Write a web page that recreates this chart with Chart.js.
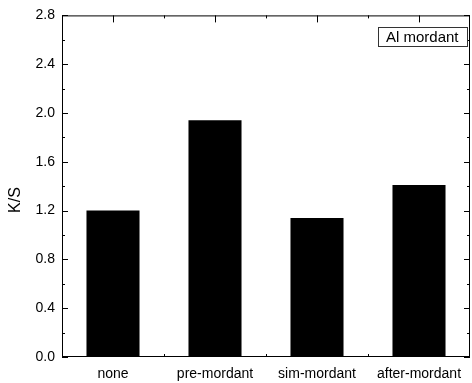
<!DOCTYPE html>
<html><head><meta charset="utf-8">
<script src="https://cdn.jsdelivr.net/npm/chart.js@4/dist/chart.umd.min.js"></script>
<style>html,body{margin:0;padding:0;background:#fff}#c{display:block}</style>
</head><body>
<canvas id="c" width="472" height="383"></canvas>
<script>
const categories = ["none", "pre-mordant", "sim-mordant", "after-mordant"];
const ksValues = [1.20, 1.94, 1.14, 1.41];
const yTickLabels = ["0.0","0.4","0.8","1.2","1.6","2.0","2.4","2.8"];
const legendText = "Al mordant";
const yTitle = "K/S";

const FONT = "'Liberation Sans', Arial, sans-serif";

const frame = {
  id: 'frame',
  afterDraw(chart) {
    const {ctx, chartArea: a, scales: {x, y}} = chart;
    ctx.save();
    ctx.strokeStyle = '#000';
    ctx.lineWidth = 1;
    ctx.strokeRect(a.left + 0.5, a.top + 0.5, a.right - a.left - 1, a.bottom - a.top - 1);
    // y ticks, inward, both sides
    for (let v = 0; v <= 2.8001; v += 0.2) {
      const py = Math.round(y.getPixelForValue(v)) + 0.5;
      const major = Math.round(v * 10) % 4 === 0;
      const len = major ? 6 : 3;
      ctx.beginPath();
      ctx.moveTo(a.left, py); ctx.lineTo(a.left + len, py);
      ctx.moveTo(a.right, py); ctx.lineTo(a.right - len, py);
      ctx.stroke();
    }
    // x ticks: major at centers, minor at boundaries
    const n = categories.length;
    for (let i = 0; i < n; i++) {
      const px = Math.round(x.getPixelForValue(i)) + 0.5;
      ctx.beginPath();
      ctx.moveTo(px, a.bottom); ctx.lineTo(px, a.bottom - 6);
      ctx.moveTo(px, a.top); ctx.lineTo(px, a.top + 7);
      ctx.stroke();
      if (i < n - 1) {
        const bx = Math.round((x.getPixelForValue(i) + x.getPixelForValue(i + 1)) / 2) + 0.5;
        ctx.beginPath();
        ctx.moveTo(bx, a.bottom); ctx.lineTo(bx, a.bottom - 3);
        ctx.moveTo(bx, a.top); ctx.lineTo(bx, a.top + 3);
        ctx.stroke();
      }
    }
    // y title
    ctx.save();
    ctx.translate(16, 200);
    ctx.rotate(-Math.PI / 2);
    ctx.font = '16px ' + FONT;
    ctx.fillStyle = '#000';
    ctx.textAlign = 'center';
    ctx.textBaseline = 'middle';
    ctx.fillText(yTitle, 0, 0);
    ctx.restore();
    // legend box
    ctx.font = '15px ' + FONT;
    const tw = ctx.measureText(legendText).width;
    const bw = Math.round(tw + 16), bh = 19;
    const bx = Math.round(a.right - 3 - bw), by = 27;
    ctx.fillStyle = '#fff';
    ctx.fillRect(bx, by, bw, bh);
    ctx.strokeStyle = '#333';
    ctx.strokeRect(bx + 0.5, by + 0.5, bw, bh);
    ctx.fillStyle = '#000';
    ctx.textBaseline = 'middle';
    ctx.textAlign = 'left';
    ctx.fillText(legendText, bx + 8, by + bh / 2 + 1);
    ctx.restore();
  }
};

new Chart(document.getElementById('c'), {
  type: 'bar',
  data: {
    labels: categories,
    datasets: [{
      data: ksValues,
      backgroundColor: '#000',
      borderWidth: 0,
      categoryPercentage: 1.0,
      barPercentage: 0.52
    }]
  },
  options: {
    responsive: false,
    animation: false,
    layout: { padding: { top: 15, right: 2, left: 0, bottom: 0 } },
    plugins: { legend: { display: false }, tooltip: { enabled: false } },
    scales: {
      x: {
        grid: { display: false, drawTicks: false },
        border: { display: false },
        ticks: { color: '#000', font: { family: FONT, size: 14 }, padding: 9, maxRotation: 0, autoSkip: false },
        afterFit(s) { s.height = 26; }
      },
      y: {
        min: 0, max: 2.8,
        grid: { display: false, drawTicks: false },
        border: { display: false },
        ticks: {
          stepSize: 0.4,
          color: '#000',
          font: { family: FONT, size: 14 },
          padding: 7,
          callback: (v, i) => yTickLabels[i]
        },
        title: { display: false },
        afterFit(s) { s.width = 62; }
      }
    }
  },
  plugins: [frame]
});
</script>
</body></html>
